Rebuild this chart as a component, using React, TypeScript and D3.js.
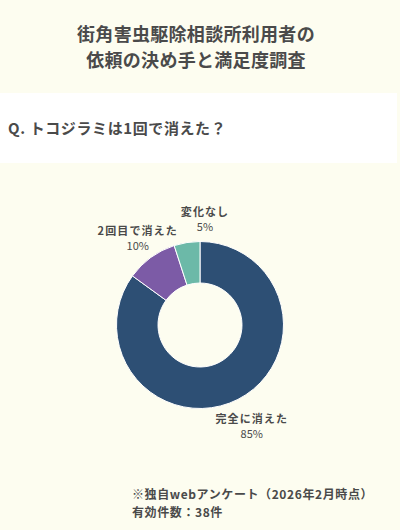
import * as d3 from 'd3';
import { useEffect, useRef } from 'react';

const categories = ['完全に消えた', '2回目で消えた', '変化なし'];
const values = [85, 10, 5];
const colors = ['#2d4f74', '#7c5ba6', '#6cb9a8'];

const titleLines = ['街角害虫駆除相談所利用者の', '依頼の決め手と満足度調査'];
const question = 'Q. トコジラミは1回で消えた？';
const notes = ['※独自webアンケート（2026年2月時点）', '有効件数：38件'];

const W = 400;
const H = 530;
const FONT = '"Noto Sans CJK JP", "Noto Sans", sans-serif';
const TEXT = '#4a4a4a';

export default function App() {
  const ref = useRef<SVGSVGElement | null>(null);

  useEffect(() => {
    document.body.style.margin = '0';
    const svg = d3.select(ref.current);
    svg.selectAll('*').remove();

    svg.append('rect').attr('width', W).attr('height', H).attr('fill', '#fdfdf0');

    // title
    svg
      .append('g')
      .attr('font-family', FONT)
      .attr('font-weight', 'bold')
      .attr('font-size', 18)
      .attr('letter-spacing', 0.3)
      .attr('fill', TEXT)
      .attr('text-anchor', 'middle')
      .selectAll('text')
      .data(titleLines)
      .join('text')
      .attr('x', 196)
      .attr('y', (_, i) => 41 + i * 26)
      .text((d) => d);

    // question band
    svg.append('rect').attr('x', 0).attr('y', 93).attr('width', 397).attr('height', 70).attr('fill', '#ffffff');
    svg
      .append('text')
      .attr('x', 8)
      .attr('y', 134)
      .attr('font-family', FONT)
      .attr('font-weight', 'bold')
      .attr('font-size', 15)
      .attr('letter-spacing', 0.6)
      .attr('fill', TEXT)
      .text(question);

    // donut
    const cx = 200;
    const cy = 325;
    const outer = 83.5;
    const inner = 42;
    const pie = d3
      .pie<number>()
      .sort(null)
      .value((d) => d)(values);
    const arc = d3.arc<d3.PieArcDatum<number>>().innerRadius(inner).outerRadius(outer);
    const g = svg.append('g').attr('transform', `translate(${cx},${cy})`);
    g.selectAll('path')
      .data(pie)
      .join('path')
      .attr('d', arc)
      .attr('fill', (_, i) => colors[i])
      .attr('stroke', '#ffffff')
      .attr('stroke-width', 1);

    // label centres, pushed a bit further out below the ring
    const pos = pie.map((d) => {
      const mid = (d.startAngle + d.endAngle) / 2;
      const r = 106 + 9 * Math.max(0, -Math.cos(mid));
      return [r * Math.sin(mid), -r * Math.cos(mid)];
    });

    const labels = g
      .selectAll('g.lbl')
      .data(pie)
      .join('g')
      .attr('class', 'lbl')
      .attr('font-family', FONT)
      .attr('fill', TEXT)
      .attr('font-size', 11)
      .attr('text-anchor', 'middle')
      .attr('transform', (_, i) => `translate(${pos[i][0]},${pos[i][1]})`);
    labels
      .append('text')
      .attr('y', -4)
      .attr('font-weight', 'bold')
      .attr('letter-spacing', 1.1)
      .text((_, i) => categories[i]);
    labels
      .append('text')
      .attr('y', 11)
      .text((d) => `${d.data}%`);

    // simple overlap avoidance: push later labels to the right
    const gap = 3;
    const nodes = labels.nodes() as SVGGElement[];
    const boxes = nodes.map((n, i) => {
      const b = n.getBBox();
      return { x: b.x + pos[i][0], y: b.y + pos[i][1], w: b.width, h: b.height };
    });
    for (let i = 1; i < boxes.length; i++) {
      for (let j = 0; j < i; j++) {
        const a = boxes[i];
        const b = boxes[j];
        const overlapY = a.y < b.y + b.h && b.y < a.y + a.h;
        const overlapX = a.x < b.x + b.w + gap && b.x < a.x + a.w;
        if (overlapY && overlapX) {
          const shift = b.x + b.w + gap - a.x;
          a.x += shift;
          pos[i][0] += shift;
        }
      }
    }
    labels.attr('transform', (_, i) => `translate(${pos[i][0]},${pos[i][1]})`);

    // notes
    svg
      .append('g')
      .attr('font-family', FONT)
      .attr('font-weight', 'bold')
      .attr('font-size', 12)
      .attr('letter-spacing', 0.6)
      .attr('fill', TEXT)
      .selectAll('text')
      .data(notes)
      .join('text')
      .attr('x', 132)
      .attr('y', (_, i) => 499 + i * 18)
      .text((d) => d);
  }, []);

  return <svg ref={ref} width={W} height={H} style={{ display: 'block' }} />;
}
